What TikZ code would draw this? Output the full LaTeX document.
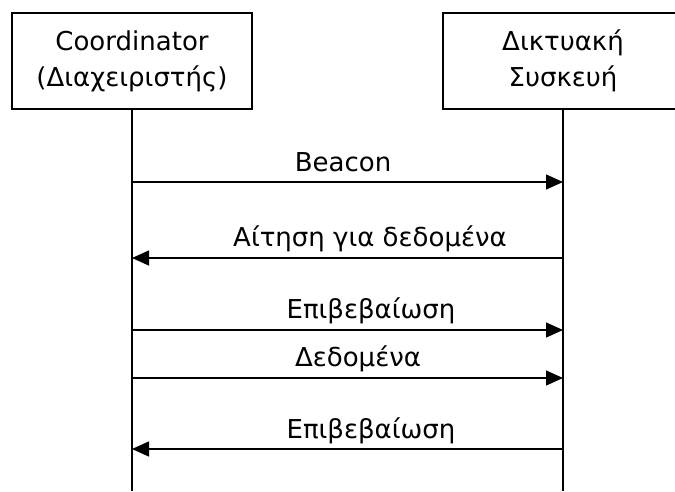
\documentclass[tikz,border=0pt]{standalone}
\usepackage{fontspec}
\setmainfont{DejaVu Sans}
\usetikzlibrary{arrows.meta}

\tikzset{
  actor/.style={draw, line width=1.3pt, minimum width=240pt, minimum height=96pt,
    align=center, inner sep=0pt, font=\fontsize{26}{36}\selectfont},
  lifeline/.style={line width=1.3pt},
  msg/.style={line width=1.3pt, -{Triangle[length=17pt,width=15pt]}},
  lbl/.style={anchor=base, inner sep=0pt, font=\fontsize{26}{31}\selectfont}
}

\begin{document}
\begin{tikzpicture}[x=1pt,y=-1pt]
    \clip (0,0) rectangle (675,491);

    % Participants
    \node[actor] (coord) at (132,61) {Coordinator\\(Διαχειριστής)};
    \node[actor] (dev) at (563,61) {Δικτυακή\\Συσκευή};

    % Lifelines
    \coordinate (coordEnd) at (132,491);
    \coordinate (devEnd) at (563,491);
    \draw[lifeline] (coord.south) -- (coordEnd);
    \draw[lifeline] (dev.south) -- (devEnd);

    % Message rows
    \def\ya{182}
    \def\yb{258}
    \def\yc{330}
    \def\yd{378}
    \def\ye{449}

    \coordinate (c1) at (132,\ya); \coordinate (d1) at (563,\ya);
    \coordinate (c2) at (132,\yb); \coordinate (d2) at (563,\yb);
    \coordinate (c3) at (132,\yc); \coordinate (d3) at (563,\yc);
    \coordinate (c4) at (132,\yd); \coordinate (d4) at (563,\yd);
    \coordinate (c5) at (132,\ye); \coordinate (d5) at (563,\ye);

    % Beacon
    \draw[msg] (c1) -- (d1);
    \node[lbl] (beacon) at (343,\ya-11) {Beacon};

    % Request for data
    \draw[msg] (d2) -- (c2);
    \node[lbl] (request) at (370,\yb-12) {Αίτηση για δεδομένα};

    % Acknowledgement
    \draw[msg] (c3) -- (d3);
    \node[lbl] (ackA) at (371,\yc-12) {Επιβεβαίωση};

    % Data
    \draw[msg] (c4) -- (d4);
    \node[lbl] (data) at (358,\yd-12) {Δεδομένα};

    % Acknowledgement
    \draw[msg] (d5) -- (c5);
    \node[lbl] (ackB) at (371,\ye-11) {Επιβεβαίωση};
\end{tikzpicture}
\end{document}
